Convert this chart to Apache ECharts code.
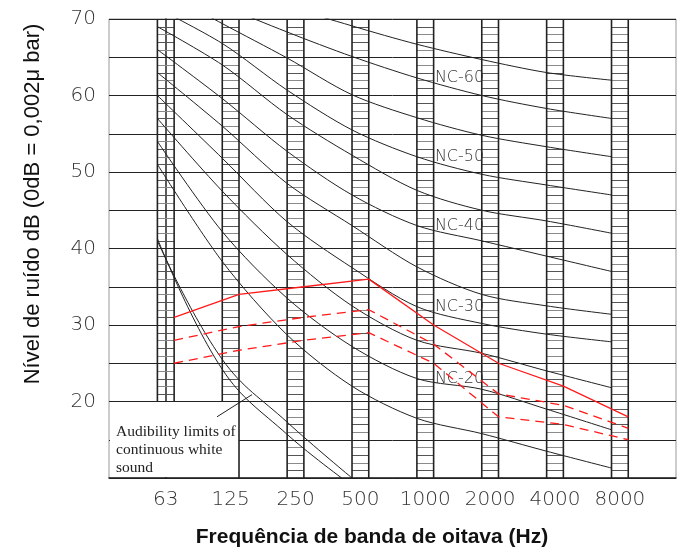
<!DOCTYPE html>
<html>
<head>
<meta charset="utf-8">
<script src="https://cdn.jsdelivr.net/npm/echarts@6/dist/echarts.min.js"></script>
<style>
html,body{margin:0;padding:0;background:#fff}
#chart{width:682px;height:551px}
</style>
</head>
<body>
<div id="chart"></div>
<script>
// Octave band centre frequencies (Hz)
const freqLabels = ['63', '125', '250', '500', '1000', '2000', '4000', '8000'];

// NC curves, sound level (dB) at each octave band
const nc65 = [80, 76, 71.8, 69.1, 66.7, 64.7, 63, 62];
const nc60 = [76, 71.8, 68.3, 65.1, 62.3, 60, 58.3, 57];
const nc55 = [74, 69.4, 64.9, 60.1, 57.1, 54.8, 53.3, 52];
const nc50 = [71.4, 66.8, 60.7, 55.5, 52, 49.7, 48.3, 47];
const nc45 = [69, 64, 57.5, 52.2, 47.6, 45, 43.6, 42];
const nc40 = [66, 59.6, 52.7, 47, 43, 41, 39, 37];
const nc35 = [63, 56, 48.5, 43, 37.6, 34, 32.5, 31.4];
const nc30 = [60, 51.8, 43.5, 37.5, 32.4, 30.2, 28.8, 27.8];
const nc25 = [57, 47.5, 39.2, 32.5, 28, 26.3, 24, 21.8];
const nc20 = [54, 42.2, 33.5, 27.2, 23, 21.6, 19, 16.3];
const nc15 = [51, 38.3, 28.7, 22, 17.8, 15.8, 13.5, 11.3];

// Curves that carry a name tag beside the 1000 Hz band
const ncTagged = { 'NC-60': nc60, 'NC-50': nc50, 'NC-40': nc40, 'NC-30': nc30, 'NC-20': nc20 };

// Measured spectra (dB)
const measuredSolid = [31, 34, 35, 36, 30, 25, 22, 18];
const measuredDashA = [28, 29.8, 31, 32, 27.5, 21, 19.5, 16.5];
const measuredDashB = [25, 26.7, 28, 29, 25, 18, 17, 15];

// Audibility limits of continuous white sound (63 .. 500 Hz)
const audibleLow = [41.3, 24.2, 15.7, 9];
const audibleHigh = [41, 25.5, 17.3, 10];

// Hatched band extent (dB) per octave band
const bandBottom = [20, 20, 10, 10, 10, 10, 10, 10];
const bandTop = [70, 70, 70, 70, 70, 70, 70, 70];

const yTicks = [20, 30, 40, 50, 60, 70];

const BAND_HALF = 0.129;   // half width of a hatched band, in band units
const X_MIN = -0.875, X_MAX = 7.865;
const Y_MIN = 10, Y_MAX = 70;

const techFont = '"DejaVu Sans"';

function leftEdge(arr) { return arr.map((v, i) => [i - BAND_HALF, v]); }
function rightEdge(arr) { return arr.map((v, i) => [i + BAND_HALF, v]); }

function ncSeries(name, arr) {
  const data = leftEdge(arr).map((p, i) => {
    if (i === 4 && ncTagged[name]) {
      return {
        value: p,
        label: {
          show: true, formatter: name, position: [18, 0],
          align: 'left', verticalAlign: 'middle',
          fontFamily: techFont, fontWeight: 200, fontSize: 16, color: '#333'
        }
      };
    }
    return p;
  });
  return {
    type: 'line', name: name, data: data, smooth: 0.3,
    symbol: 'circle', symbolSize: 0, showSymbol: true,
    lineStyle: { color: '#222', width: 1 },
    itemStyle: { color: '#222' },
    z: 5, silent: true, clip: true
  };
}

function renderBand(params, api) {
  const i = api.value(0), lo = api.value(1), hi = api.value(2);
  const tl = api.coord([i - BAND_HALF, hi]);
  const br = api.coord([i + BAND_HALF, lo]);
  const children = [];
  for (let v = lo + 1; v < hi; v++) {
    if (v % 5 === 0) continue;
    const y = Math.round(api.coord([0, v])[1]) + 0.5;
    children.push({ type: 'line', shape: { x1: tl[0], y1: y, x2: br[0], y2: y },
      style: { stroke: v % 2 ? '#555' : '#8a8a8a', lineWidth: 1 } });
  }
  [tl[0], br[0]].forEach(x => {
    children.push({ type: 'line', shape: { x1: x, y1: tl[1], x2: x, y2: br[1] },
      style: { stroke: '#222', lineWidth: 1.6 } });
  });
  return { type: 'group', children: children };
}

// Caption box in the lower left corner, bounded by the 125 Hz band edge
function renderCaption(params, api) {
  const tl = api.coord([X_MIN, 20]);
  const br = api.coord([1 + BAND_HALF, Y_MIN]);
  const p1 = api.coord([0.79, 18.0]);
  const p2 = api.coord([1.33, 20.9]);
  return {
    type: 'group',
    children: [
      { type: 'rect', shape: { x: tl[0] + 1, y: tl[1], width: br[0] - tl[0] - 1, height: br[1] - tl[1] - 1 },
        style: { fill: '#fff' } },
      { type: 'line', shape: { x1: br[0], y1: tl[1], x2: br[0], y2: br[1] },
        style: { stroke: '#222', lineWidth: 1.6 } },
      { type: 'line', shape: { x1: tl[0], y1: tl[1], x2: br[0], y2: tl[1] },
        style: { stroke: '#222', lineWidth: 1 } },
      { type: 'line', shape: { x1: p1[0], y1: p1[1], x2: p2[0], y2: p2[1] },
        style: { stroke: '#222', lineWidth: 1 } },
      { type: 'text', x: tl[0] + 7, y: tl[1] + 21,
        style: { text: 'Audibility limits of\ncontinuous white\nsound',
          font: '15.5px "Liberation Serif"', fill: '#222', lineHeight: 18,
          align: 'left', verticalAlign: 'top' } }
    ]
  };
}

const chart = echarts.init(document.getElementById('chart'), null, { renderer: 'canvas' });

const series = [
  {
    type: 'custom', name: 'bands', renderItem: renderBand, silent: true, z: 2,
    data: freqLabels.map((f, i) => [i, bandBottom[i], bandTop[i]])
  },
  {
    type: 'custom', name: 'caption', renderItem: renderCaption, silent: true, z: 3,
    data: [[0, 0]]
  },
  ncSeries('NC-65', nc65), ncSeries('NC-60', nc60), ncSeries('NC-55', nc55),
  ncSeries('NC-50', nc50), ncSeries('NC-45', nc45), ncSeries('NC-40', nc40),
  ncSeries('NC-35', nc35), ncSeries('NC-30', nc30), ncSeries('NC-25', nc25),
  ncSeries('NC-20', nc20), ncSeries('NC-15', nc15),
  {
    type: 'line', name: 'audible-low', data: leftEdge(audibleLow),
    smooth: 0.4, showSymbol: false, lineStyle: { color: '#222', width: 1 }, z: 5, silent: true
  },
  {
    type: 'line', name: 'audible-high', data: leftEdge(audibleHigh),
    smooth: 0.4, showSymbol: false, lineStyle: { color: '#222', width: 1 }, z: 5, silent: true
  },
  {
    type: 'line', name: 'measured', data: rightEdge(measuredSolid),
    showSymbol: false, lineStyle: { color: '#ff1a1a', width: 1.3 }, z: 6, silent: true
  },
  {
    type: 'line', name: 'measured-a', data: rightEdge(measuredDashA),
    showSymbol: false, lineStyle: { color: '#ff1a1a', width: 1.3, type: [9, 6] }, z: 6, silent: true
  },
  {
    type: 'line', name: 'measured-b', data: rightEdge(measuredDashB),
    showSymbol: false, lineStyle: { color: '#ff1a1a', width: 1.3, type: [9, 6] }, z: 6, silent: true
  }
];

chart.setOption({
  animation: false,
  backgroundColor: '#fff',
  grid: { left: 109, top: 19, width: 567, height: 459, show: true, borderColor: '#999', borderWidth: 1 },
  xAxis: {
    type: 'value', min: X_MIN, max: X_MAX,
    axisLine: { show: true, lineStyle: { color: '#222', width: 1.5 } },
    axisTick: { show: false },
    splitLine: { show: false },
    axisLabel: {
      customValues: freqLabels.map((f, i) => i),
      formatter: v => freqLabels[Math.round(v)] || '',
      margin: 12, fontFamily: techFont, fontWeight: 200, fontSize: 20, color: '#333'
    }
  },
  yAxis: {
    type: 'value', min: Y_MIN, max: Y_MAX, interval: 5,
    axisLine: { show: true, lineStyle: { color: '#222', width: 1.5 } },
    axisTick: { show: false },
    splitLine: { show: true, lineStyle: { color: '#222', width: 1 } },
    axisLabel: {
      formatter: v => yTicks.indexOf(v) >= 0 ? String(v) : '',
      margin: 13, fontFamily: techFont, fontWeight: 200, fontSize: 20, color: '#333'
    }
  },
  graphic: [
    { type: 'text', x: 33, y: 204, rotation: Math.PI / 2,
      style: { text: 'Nível de ruído dB (0dB = 0,002μ bar)', font: '22px "Liberation Sans"',
        fill: '#111', align: 'center', verticalAlign: 'middle' } },
    { type: 'text', x: 372, y: 537,
      style: { text: 'Frequência de banda de oitava (Hz)', font: 'bold 21px "Liberation Sans"',
        fill: '#111', align: 'center', verticalAlign: 'middle' } }
  ],
  series: series
});
</script>
</body>
</html>
